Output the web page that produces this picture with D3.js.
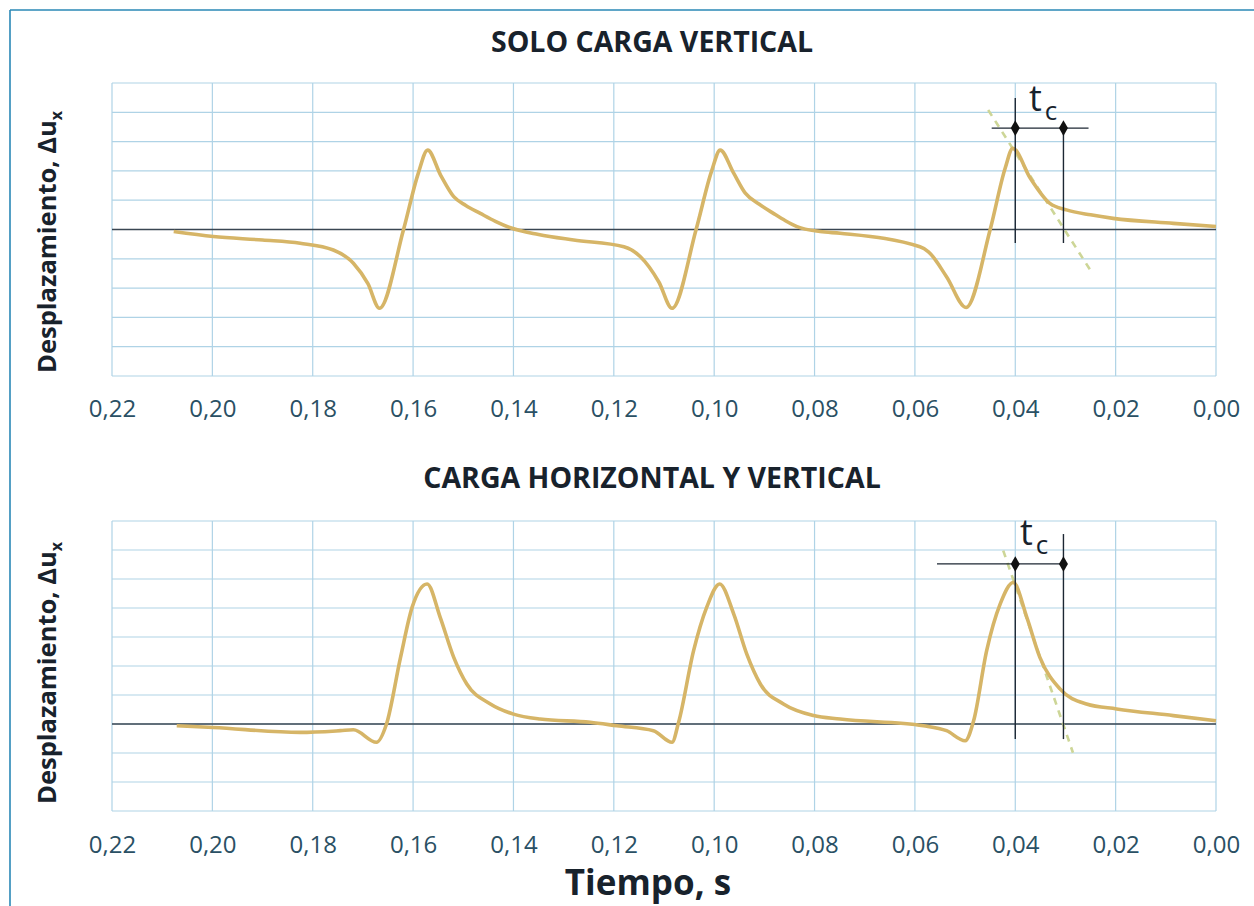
<!DOCTYPE html>
<html>
<head>
<meta charset="utf-8">
<script src="https://cdn.jsdelivr.net/npm/d3@7"></script>
<style>
  html, body { margin: 0; padding: 0; background: #fff; }
  svg { display: block; font-family: "Open Sans", "DejaVu Sans", sans-serif; }
</style>
</head>
<body>
<svg id="chart" width="1254" height="906"></svg>
<script>
// ---------------- data ----------------
const timeTicks = [0.22, 0.20, 0.18, 0.16, 0.14, 0.12, 0.10, 0.08, 0.06, 0.04, 0.02, 0.00];
const tickLabels = ["0,22", "0,20", "0,18", "0,16", "0,14", "0,12", "0,10", "0,08", "0,06", "0,04", "0,02", "0,00"];
const panelTitles = ["SOLO CARGA VERTICAL", "CARGA HORIZONTAL Y VERTICAL"];
const yLabel = "Desplazamiento, Δu";
const xLabel = "Tiempo, s";

// Top panel: only vertical load (time s, displacement in grid units)
const topTime = [0.2077, 0.1998, 0.1900, 0.1825, 0.1759, 0.1719, 0.1690, 0.1667, 0.1619, 0.1590, 0.1571, 0.1545, 0.1519, 0.1495, 0.1466, 0.1436, 0.1406,
                 0.1350, 0.1280, 0.1180, 0.1147, 0.1110, 0.1084, 0.1036, 0.1005, 0.0988, 0.0962, 0.0938, 0.0910, 0.0882, 0.0858, 0.0835, 0.0789,
                 0.0749, 0.0590, 0.0573, 0.0537, 0.0498, 0.0450, 0.0420, 0.0405, 0.0370, 0.0331, 0.0298, 0.0250, 0.0205, 0.0085, 0.0000];
const topDisp = [-0.07, -0.24, -0.36, -0.47, -0.70, -1.15, -1.85, -2.69, 0.00, 1.90, 2.71, 1.85, 1.12, 0.82, 0.55, 0.28, 0.06,
                 -0.17, -0.36, -0.59, -0.93, -1.80, -2.69, 0.00, 2.00, 2.71, 1.95, 1.24, 0.86, 0.55, 0.30, 0.10, -0.07,
                 -0.13, -0.59, -0.76, -1.61, -2.66, 0.00, 2.10, 2.77, 1.75, 0.89, 0.67, 0.50, 0.38, 0.21, 0.10];

// Bottom panel: horizontal and vertical load
const botTime = [0.2071, 0.1998, 0.1825, 0.1745, 0.1719, 0.1673, 0.1653, 0.1625, 0.1602, 0.1572, 0.1546, 0.1519, 0.1493, 0.1446, 0.1400,
                 0.1347, 0.1247, 0.1194, 0.1121, 0.1084, 0.1071, 0.1041, 0.1015, 0.0989, 0.0961, 0.0935, 0.0908, 0.0862, 0.0802,
                 0.0749, 0.0583, 0.0537, 0.0500, 0.0483, 0.0457, 0.0430, 0.0404, 0.0377, 0.0351, 0.0311, 0.0258, 0.0198, 0.0085, 0.0000];
const botDisp = [-0.06, -0.12, -0.29, -0.23, -0.20, -0.63, 0.00, 2.30, 4.02, 4.83, 3.68, 2.30, 1.38, 0.69, 0.34,
                 0.17, 0.06, -0.06, -0.23, -0.63, 0.05, 2.53, 4.02, 4.83, 3.79, 2.41, 1.38, 0.69, 0.29,
                 0.17, -0.06, -0.23, -0.58, 0.11, 2.53, 4.14, 4.88, 3.68, 2.30, 1.21, 0.69, 0.52, 0.29, 0.11];

// t_c annotation (time of peak and end of contact), marker level, line extents
const topMarkTimes = [0.0400, 0.0304];
const topMarkLevel = 3.46;
const topVLineTop = [4.49, 3.46];
const topVLineBottom = -0.46;
const topHLine = [0.0447, 0.0254];
const topTangentT = [0.0454, 0.0247];
const topTangentV = [4.08, -1.48];

const botMarkTimes = [0.0400, 0.0304];
const botMarkLevel = 5.52;
const botVLineTop = [5.52, 6.55];
const botVLineBottom = -0.52;
const botHLine = [0.0556, 0.0297];
const botTangentT = [0.0424, 0.0285];
const botTangentV = [5.98, -0.99];

// ---------------- drawing ----------------
const svg = d3.select("#chart");
const W = 1254, H = 906;

// frame
svg.append("line").attr("x1", 10).attr("x2", W).attr("y1", 10).attr("y2", 10)
  .attr("stroke", "#2a88b6").attr("stroke-width", 1.6);
svg.append("line").attr("x1", 10).attr("x2", 10).attr("y1", 10).attr("y2", H)
  .attr("stroke", "#2a88b6").attr("stroke-width", 1.6);

const x = d3.scaleLinear().domain([0.22, 0]).range([112, 1216]);

const panels = [
  { title: panelTitles[0], titleY: 52, yDomain: [-5, 5], yRange: [376, 83], time: topTime, disp: topDisp,
    marks: topMarkTimes, level: topMarkLevel, vTop: topVLineTop, vBottom: topVLineBottom, hLine: topHLine,
    tanT: topTangentT, tanV: topTangentV, labelCenter: 242, tickY: 417, tcPos: [1029, 111] },
  { title: panelTitles[1], titleY: 488, yDomain: [-3, 7], yRange: [811, 521], time: botTime, disp: botDisp,
    marks: botMarkTimes, level: botMarkLevel, vTop: botVLineTop, vBottom: botVLineBottom, hLine: botHLine,
    tanT: botTangentT, tanV: botTangentV, labelCenter: 673, tickY: 853, tcPos: [1020, 545] }
];

panels.forEach(p => {
  const y = d3.scaleLinear().domain(p.yDomain).range(p.yRange);
  const g = svg.append("g");

  // title
  g.append("text").attr("x", 652).attr("y", p.titleY).attr("text-anchor", "middle")
    .attr("font-size", 28.5).attr("font-weight", 700).attr("fill", "#18222c").text(p.title);

  // horizontal grid
  const yTicks = d3.range(p.yDomain[0], p.yDomain[1] + 1, 1);
  g.append("g").selectAll("line").data(yTicks).join("line")
    .attr("x1", x(0.22)).attr("x2", x(0)).attr("y1", d => y(d)).attr("y2", d => y(d))
    .attr("stroke", "#afd3e6").attr("stroke-width", 1.2);

  // vertical grid
  g.append("g").selectAll("line").data(timeTicks).join("line")
    .attr("x1", d => x(d)).attr("x2", d => x(d)).attr("y1", y(p.yDomain[1])).attr("y2", y(p.yDomain[0]))
    .attr("stroke", "#afd3e6").attr("stroke-width", 1.2);

  // x axis tick labels
  const axis = d3.axisBottom(x).tickValues(timeTicks).tickSize(0)
    .tickFormat((d, i) => tickLabels[i]);
  const ax = g.append("g").attr("transform", `translate(0,${p.tickY})`).call(axis);
  ax.select(".domain").remove();
  ax.selectAll("text").attr("font-size", 24).attr("fill", "#2a5064")
    .attr("font-family", "'Open Sans', sans-serif").attr("dy", 0).attr("y", 0);

  // zero line
  g.append("line").attr("x1", x(0.22)).attr("x2", x(0)).attr("y1", y(0)).attr("y2", y(0))
    .attr("stroke", "#3a4652").attr("stroke-width", 1.6);

  // tangent dashed line
  g.append("line").attr("x1", x(p.tanT[0])).attr("y1", y(p.tanV[0]))
    .attr("x2", x(p.tanT[1])).attr("y2", y(p.tanV[1]))
    .attr("stroke", "#cdd697").attr("stroke-width", 2.6).attr("stroke-dasharray", "7,6");

  // curve
  const line = d3.line().x(d => x(d[0])).y(d => y(d[1])).curve(d3.curveMonotoneX);
  const pts = p.time.map((t, i) => [t, p.disp[i]]);
  g.append("path").attr("d", line(pts)).attr("fill", "none")
    .attr("stroke", "#d6b567").attr("stroke-width", 3.6).attr("stroke-linejoin", "round");

  // t_c annotation
  g.append("line").attr("x1", x(p.hLine[0])).attr("x2", x(p.hLine[1]))
    .attr("y1", y(p.level)).attr("y2", y(p.level)).attr("stroke", "#1c2733").attr("stroke-width", 1.4);
  p.marks.forEach((m, i) => {
    g.append("line").attr("x1", x(m)).attr("x2", x(m)).attr("y1", y(p.vTop[i])).attr("y2", y(p.vBottom))
      .attr("stroke", "#1c2733").attr("stroke-width", 1.4);
  });
  g.append("g").selectAll("path").data(p.marks).join("path")
    .attr("d", d3.symbol(d3.symbolDiamond, 70))
    .attr("transform", d => `translate(${x(d)},${y(p.level)})`)
    .attr("fill", "#111");
  const tc = g.append("text").attr("x", p.tcPos[0]).attr("y", p.tcPos[1])
    .attr("font-size", 36).attr("fill", "#18222c");
  tc.append("tspan").text("t");
  tc.append("tspan").attr("font-size", 26).attr("dx", 3).attr("dy", 9).text("c");

  // y label
  const yl = g.append("text").attr("transform", `translate(56,${p.labelCenter}) rotate(-90)`)
    .attr("text-anchor", "middle").attr("font-size", 25.5).attr("font-weight", 700).attr("fill", "#18222c");
  yl.append("tspan").text(yLabel);
  yl.append("tspan").attr("font-size", 16).attr("dy", 6).text("x");
});

// x axis title
svg.append("text").attr("x", 648).attr("y", 895).attr("text-anchor", "middle")
  .attr("font-size", 35).attr("font-weight", 700).attr("fill", "#18222c").text(xLabel);
</script>
</body>
</html>
